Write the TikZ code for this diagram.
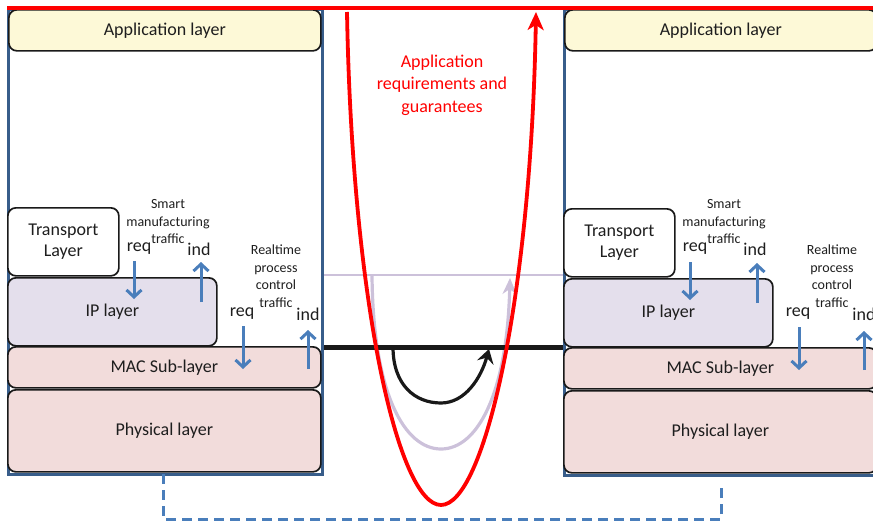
\documentclass[tikz,border=0pt]{standalone}
\usepackage{fontspec}
\setmainfont{Carlito}
\usetikzlibrary{arrows.meta}
\definecolor{appY}{HTML}{FDF9D7}
\definecolor{ipL}{HTML}{E4DFEC}
\definecolor{macP}{HTML}{F2DCDB}
\definecolor{frameB}{HTML}{385D8A}
\definecolor{arrB}{HTML}{4A7EBB}
\definecolor{lav}{HTML}{CCC1DA}
\definecolor{txt}{HTML}{1E1E1E}
\definecolor{redc}{HTML}{FF0000}
\tikzset{
  layer/.style={draw=black!90, line width=1.7pt, rounded corners=8pt, anchor=north west,
    inner sep=0pt, text=txt, align=center, font=\fontsize{18}{21}\selectfont},
  framebox/.style={draw=frameB, line width=3.2pt, anchor=north west, inner sep=0pt},
  smalltxt/.style={text=txt, align=center, font=\fontsize{14}{17.5}\selectfont, inner sep=0pt},
  primtxt/.style={text=txt, font=\fontsize{18}{21}\selectfont, inner sep=0pt},
  barrow/.style={draw=arrB, line width=3pt, -{Straight Barb[length=7pt,width=15pt]}},
  redline/.style={draw=redc, line width=4.5pt},
  dashc/.style={draw=arrB, line width=3pt, dash pattern=on 10pt off 6pt}
}
\begin{document}
\begin{tikzpicture}[x=1pt,y=-1pt]
\useasboundingbox (0,0) rectangle (873,522);
\clip (0,0) rectangle (873,522);
% frames
\node[framebox, minimum width=314pt, minimum height=465pt] (stackL) at (7,8) {};
\node[framebox, minimum width=320pt, minimum height=466pt] (stackR) at (563,8) {};
% left stack
\node[layer, fill=appY, minimum width=312pt, minimum height=41pt] (appL) at (8,9) {Application layer};
\node[layer, fill=white, minimum width=111pt, minimum height=68pt] (trL) at (7,207) {Transport\\Layer};
\node[layer, fill=ipL, minimum width=209pt, minimum height=68pt] (ipL) at (7,277) {IP layer};
\node[layer, fill=macP, minimum width=313pt, minimum height=41pt] (macL) at (7,346) {MAC Sub-layer};
\node[layer, fill=macP, minimum width=313pt, minimum height=82pt] (phyL) at (7,389) {Physical layer};
% right stack
\node[layer, fill=appY, minimum width=312pt, minimum height=41pt] (appR) at (564,9) {Application layer};
\node[layer, fill=white, minimum width=111pt, minimum height=68pt] (trR) at (563,208) {Transport\\Layer};
\node[layer, fill=ipL, minimum width=209pt, minimum height=68pt] (ipR) at (563,278) {IP layer};
\node[layer, fill=macP, minimum width=313pt, minimum height=41pt] (macR) at (563,347) {MAC Sub-layer};
\node[layer, fill=macP, minimum width=313pt, minimum height=82pt] (phyR) at (563,390) {Physical layer};
% left labels
\node[smalltxt] (smL) at (168,222) {Smart\\manufacturing\\traffic};
\node[primtxt] (reqL1) at (139,249) {req};
\node[primtxt] (indL1) at (199,249) {ind};
\node[smalltxt] (rtL) at (276,276) {Realtime\\process\\control\\traffic};
\node[primtxt] (reqL2) at (242,314) {req};
\node[primtxt] (indL2) at (308,314) {ind};
% right labels
\node[smalltxt] (smR) at (724,222) {Smart\\manufacturing\\traffic};
\node[primtxt] (reqR1) at (695,249) {req};
\node[primtxt] (indR1) at (755,249) {ind};
\node[smalltxt] (rtR) at (832,276) {Realtime\\process\\control\\traffic};
\node[primtxt] (reqR2) at (798,314) {req};
\node[primtxt] (indR2) at (864,314) {ind};
% blue arrows
\coordinate (a1s) at (134,261); \coordinate (a1e) at (134,299);
\coordinate (a2s) at (201,302); \coordinate (a2e) at (201,262);
\coordinate (a3s) at (243,326); \coordinate (a3e) at (243,369);
\coordinate (a4s) at (308,369); \coordinate (a4e) at (308,330);
\coordinate (b1s) at (690,262); \coordinate (b1e) at (690,300);
\coordinate (b2s) at (757,303); \coordinate (b2e) at (757,263);
\coordinate (b3s) at (799,327); \coordinate (b3e) at (799,370);
\coordinate (b4s) at (864,370); \coordinate (b4e) at (864,331);
\foreach \s/\e in {a1s/a1e,a2s/a2e,a3s/a3e,a4s/a4e,b1s/b1e,b2s/b2e,b3s/b3e,b4s/b4e}
  \draw[barrow] (\s) -- (\e);
% dashed physical link
\coordinate (dL) at (163,474);
\coordinate (dR) at (721,484);
\draw[dashc] (dL) -- ++(0,45) -| (dR);
% lavender line and U
\draw[draw=lav, line width=1.5pt] (stackL.east |- 0,275) -- (stackR.west |- 0,275);
\coordinate (lavS) at (372,275);
\coordinate (lavB) at (441,449);
\coordinate (lavE) at (510,278);
\draw[draw=lav, line width=3.2pt, -{Stealth[length=16pt,width=14pt,inset=5pt]}]
  (lavS) .. controls (373,395) and (405,449) .. (lavB)
         .. controls (477,449) and (507,395) .. (lavE);
% black line and U
\draw[draw=black!90, line width=5pt] (stackL.east |- 0,347) -- (stackR.west |- 0,347);
\coordinate (blkS) at (393,347);
\coordinate (blkB) at (441,403);
\coordinate (blkE) at (489,349);
\draw[draw=black!90, line width=3.2pt, -{Stealth[length=14pt,width=17pt,inset=5pt]}]
  (blkS) .. controls (393,385) and (415,403) .. (blkB)
         .. controls (465,403) and (481,378) .. (blkE);
% red top line and U
\draw[redline] (stackL.north west) -- (stackR.north east);
\coordinate (redS) at (347,12);
\coordinate (redB) at (441,505);
\coordinate (redE) at (536,12);
\draw[draw=redc, line width=3.8pt, -{Stealth[length=18pt,width=16pt,inset=5pt]}]
  (redS) .. controls (352,300) and (398,505) .. (redB)
         .. controls (484,505) and (531,300) .. (redE);
\node[text=redc, align=center, font=\fontsize{18}{22.5}\selectfont, inner sep=0pt] (req) at (442,85)
  {Application\\requirements and\\guarantees};
\end{tikzpicture}
\end{document}
